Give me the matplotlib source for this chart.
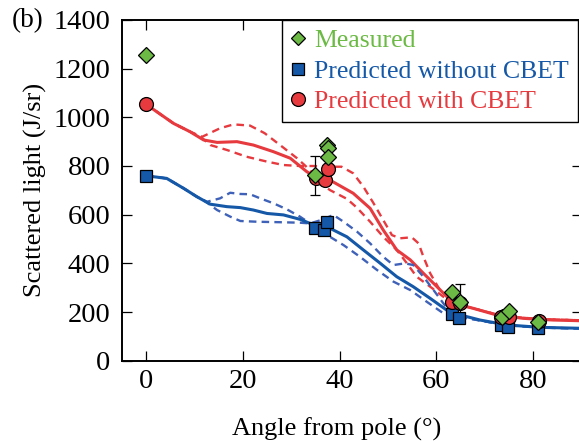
import matplotlib.pyplot as plt
from matplotlib.lines import Line2D

# --- Data ---
meas_ang = [0, 35.0, 37.3, 37.6, 37.6, 63.3, 64.9, 73.6, 74.9, 81.0]
meas_val = [1255, 762, 886, 874, 838, 281, 240, 181, 206, 158]
err_ang = [35.0, 64.9]
err_val = [762, 240]
err_size = [80, 75]

cbet_ang = [0, 35.1, 36.9, 37.5, 63.3, 64.9, 73.3, 75.0, 81.2]
cbet_val = [1054, 751, 741, 786, 243, 239, 178, 181, 165]

nocbet_ang = [0, 35.0, 36.7, 37.3, 63.1, 64.7, 73.4, 74.8, 81.0]
nocbet_val = [758, 546, 539, 569, 193, 177, 148, 140, 136]

# model curves, with CBET
red_x = [0, 5.7, 9.1, 11.9, 14.7, 18.8, 22.2, 26.3, 29.8, 33.2, 34.6, 38.0,
         42.8, 46.3, 49.0, 51.8, 54.6, 57.3, 60.1, 62.5, 64.9, 67.6, 72.4,
         77.9, 84.1, 90]
red_y = [1054, 975, 941, 907, 897, 900, 886, 859, 832, 777, 759, 742,
         688, 626, 537, 455, 414, 359, 304, 256, 229, 215, 188,
         174, 167, 164]
red_hi_x = [0, 5.7, 9.1, 11.6, 15.3, 18.1, 21.5, 24.5, 27.7, 31.2, 33.9, 36.0,
            38.0, 41.5, 43.5, 46.3, 49.0, 51.8, 53.9, 55.9, 58.7, 61.4, 64.9,
            67.6, 72.4, 77.9, 84.1, 90]
red_hi_y = [1054, 975, 941, 920, 955, 971, 966, 935, 886, 832, 783, 730,
            701, 665, 630, 571, 509, 455, 400, 345, 304, 263, 229,
            215, 190, 176, 169, 166]
red_lo_x = [0, 5.7, 9.1, 11.6, 13.3, 16.7, 20.8, 25.0, 28.4, 31.8, 34.6, 38.0,
            40.4, 42.8, 44.9, 47.0, 49.0, 50.8, 52.5, 54.9, 56.3, 57.3, 58.7,
            60.7, 62.5, 64.9, 67.6, 72.4, 77.9, 84.1, 90]
red_lo_y = [1054, 975, 941, 915, 886, 866, 838, 818, 804, 800, 800, 797,
            797, 770, 715, 647, 578, 516, 503, 507, 482, 427, 359,
            290, 263, 229, 215, 190, 176, 169, 166]

# model curves, without CBET
blue_x = [0, 4.3, 7.8, 10.5, 13.3, 16.7, 19.5, 22.2, 25.0, 28.4, 31.8, 33.9,
          38.0, 41.5, 44.9, 48.4, 51.8, 55.2, 58.7, 62.1, 64.9, 69.0, 74.5,
          81.4, 90]
blue_y = [760, 749, 708, 674, 643, 633, 629, 619, 605, 599, 581, 564,
          544, 509, 455, 400, 345, 304, 256, 208, 188, 167, 147,
          137, 133]
blue_hi_x = [0, 4.3, 7.8, 10.5, 12.6, 15.3, 17.4, 19.5, 21.5, 23.6, 26.3, 29.1,
             31.8, 33.9, 36.0, 38.0, 40.8, 44.2, 47.7, 51.1, 54.6, 58.0, 61.4,
             64.9, 69.0, 74.5, 81.4, 90]
blue_hi_y = [760, 749, 708, 674, 653, 667, 690, 685, 684, 667, 647, 622,
             592, 564, 535, 509, 475, 427, 373, 325, 290, 242, 195,
             180, 165, 146, 136, 132]
blue_lo_x = [0, 4.3, 7.8, 10.5, 12.6, 14.7, 17.4, 19.5, 22.9, 27.7, 31.8, 33.9,
             36.5, 38.7, 40.8, 43.6, 46.3, 49.0, 51.1, 53.5, 55.2, 57.3, 59.4,
             61.4, 62.8, 64.9, 69.0, 74.5, 81.4, 90]
blue_lo_y = [760, 749, 708, 674, 650, 619, 592, 574, 571, 569, 567, 564,
             580, 599, 571, 530, 482, 427, 393, 400, 393, 345, 290,
             236, 201, 180, 165, 146, 136, 132]

# --- Styling ---
plt.rcParams["font.family"] = ["Liberation Serif", "DejaVu Serif"]
GREEN = "#6cba45"
BLUE = "#1558a7"
BLUE_D = "#3f62b8"
RED = "#e63a3f"
DASH = (0, (3.2, 2.2))

fig = plt.figure(figsize=(5.79, 4.43), dpi=100)
ax = fig.add_axes([0.2102, 0.1858, 0.7946, 0.7691])

# --- Model curves ---
ax.plot(red_hi_x, red_hi_y, color=RED, lw=1.7, ls=DASH, zorder=2)
ax.plot(red_lo_x, red_lo_y, color=RED, lw=1.7, ls=DASH, zorder=2)
ax.plot(red_x, red_y, color=RED, lw=2.2, zorder=2)
ax.plot(blue_hi_x, blue_hi_y, color=BLUE_D, lw=1.7, ls=DASH, zorder=2)
ax.plot(blue_lo_x, blue_lo_y, color=BLUE_D, lw=1.7, ls=DASH, zorder=2)
ax.plot(blue_x, blue_y, color=BLUE, lw=2.2, zorder=2)

# --- Error bars and points ---
ax.errorbar(err_ang, err_val, yerr=err_size, fmt="none", ecolor="black",
            elinewidth=0.9, capsize=3.5, capthick=0.9, zorder=3)
ax.plot(nocbet_ang, nocbet_val, ls="none", marker="s", ms=8.5, mfc=BLUE,
        mec="black", mew=0.9, zorder=4)
ax.plot(cbet_ang, cbet_val, ls="none", marker="o", ms=10, mfc=RED,
        mec="black", mew=0.9, zorder=5)
ax.plot(meas_ang, meas_val, ls="none", marker="D", ms=8.5, mfc=GREEN,
        mec="black", mew=0.9, zorder=6)

# --- Axes ---
ax.set_xlim(-5, 90)
ax.set_ylim(0, 1400)
ax.set_xticks([0, 20, 40, 60, 80])
ax.set_yticks(range(0, 1401, 200))
ax.tick_params(direction="in", length=7, width=0.9, top=True, right=True,
               labelsize=20.5, pad=6)
ax.tick_params(axis="y", pad=8)
for s in ax.spines.values():
    s.set_linewidth(1.4)
ax.set_xlabel("Angle from pole (°)", fontsize=19)
ax.xaxis.set_label_coords(0.467, -0.168)
ax.set_ylabel("Scattered light (J/sr)", fontsize=19, labelpad=5)
fig.text(0.02, 0.953, "(b)", fontsize=19.5, va="center", ha="left")

# --- Legend ---
handles = [
    Line2D([], [], ls="none", marker="D", ms=7.5, mfc=GREEN, mec="black", mew=0.9),
    Line2D([], [], ls="none", marker="s", ms=8, mfc=BLUE, mec="black", mew=0.9),
    Line2D([], [], ls="none", marker="o", ms=10, mfc=RED, mec="black", mew=0.9),
]
labels = ["Measured", "Predicted without CBET", "Predicted with CBET"]
leg = ax.legend(handles, labels, loc="upper left", bbox_to_anchor=(0.348, 1.0),
                borderaxespad=0, fancybox=False, framealpha=1, edgecolor="black",
                fontsize=18.5, handlelength=0.55, handletextpad=0.37,
                borderpad=0.35, labelspacing=0.3)
leg.get_frame().set_linewidth(1.0)
for txt, c in zip(leg.get_texts(), [GREEN, BLUE, RED]):
    txt.set_color(c)

fig.savefig("out.png", dpi=100)
